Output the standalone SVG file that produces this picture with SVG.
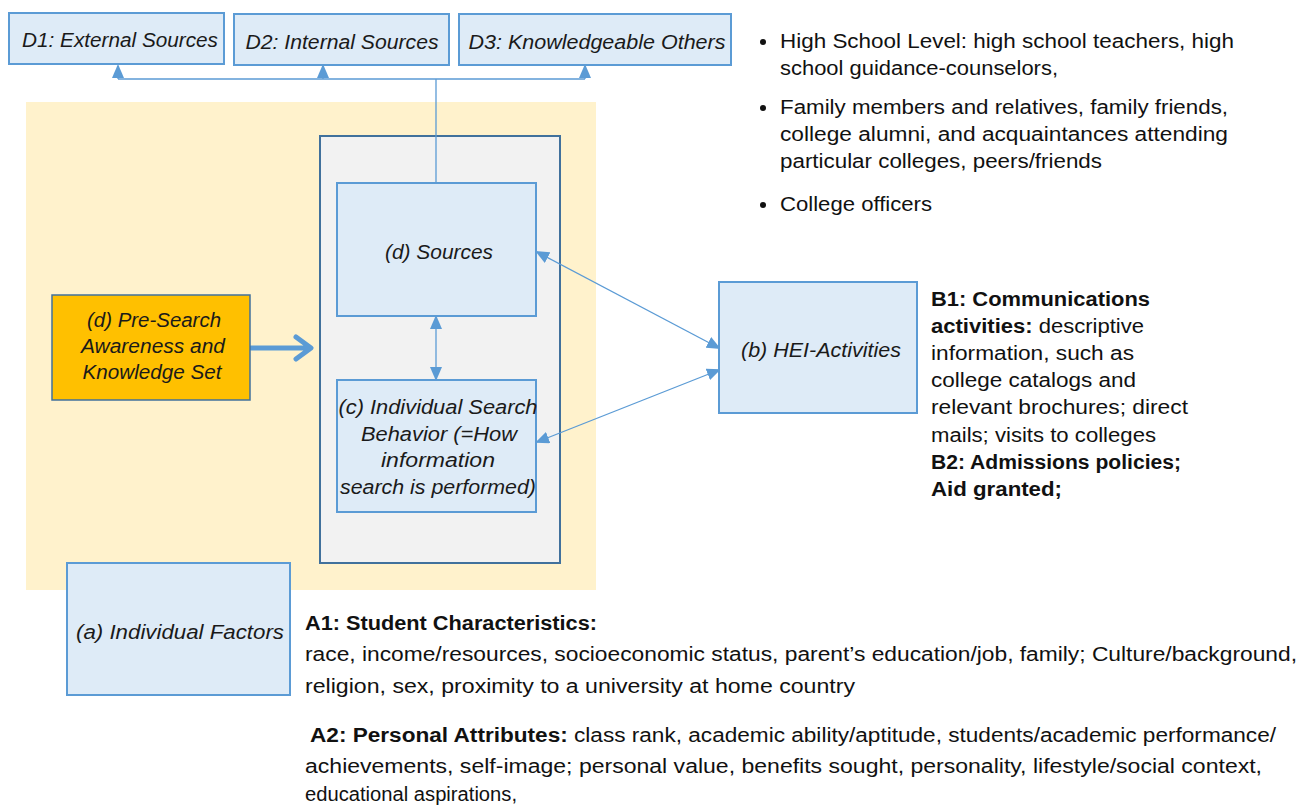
<svg xmlns="http://www.w3.org/2000/svg" width="1309" height="807" viewBox="0 0 1309 807">
<defs>
<style>
.box{fill:#DEEBF7;stroke:#5B9BD5;stroke-width:2}
.lbl{font-family:"Liberation Sans",Arial,sans-serif;font-style:italic;font-size:20px;fill:#1a1a1a;text-anchor:middle}
.txt{font-family:"Liberation Sans",Arial,sans-serif;font-size:20px;fill:#111}
.b{font-weight:bold}
.con{stroke:#5B9BD5;stroke-width:1.3;fill:none}
</style>
<marker id="ah2" viewBox="0 0 14 12" refX="12" refY="6" markerWidth="14" markerHeight="12" markerUnits="userSpaceOnUse" orient="auto-start-reverse">
<path d="M0,0 L14,6 L0,12 z" fill="#5B9BD5"/>
</marker>
</defs>
<rect width="1309" height="807" fill="#fff"/>

<rect id="bg-yellow" x="26" y="102" width="570" height="488" fill="#FFF2CC"/>

<g id="container">
<rect x="320" y="136" width="240" height="427" fill="#F2F2F2" stroke="#41719C" stroke-width="2"/>
</g>

<g id="connectors">
<path class="con" d="M436,183 V79 M118,79 H585" />
<path class="con" d="M118,79 V66" marker-end="url(#ah2)"/>
<path class="con" d="M323,79 V66" marker-end="url(#ah2)"/>
<path class="con" d="M585,79 V66" marker-end="url(#ah2)"/>
<path class="con" d="M436,317 V379" marker-start="url(#ah2)" marker-end="url(#ah2)"/>
<path class="con" d="M537,252 L719,348" marker-start="url(#ah2)" marker-end="url(#ah2)"/>
<path class="con" d="M537,442 L719,370" marker-start="url(#ah2)" marker-end="url(#ah2)"/>
<path d="M251,348 H310 M296,337 L311,348 L296,359" stroke="#5B9BD5" stroke-width="5" fill="none" stroke-linecap="round" stroke-linejoin="round"/>
</g>

<g id="d1"><rect class="box" x="9" y="13" width="215" height="51"/><text class="lbl" x="120" y="47" textLength="196" lengthAdjust="spacingAndGlyphs">D1: External Sources</text></g>
<g id="d2"><rect class="box" x="234" y="14" width="215" height="51"/><text class="lbl" x="342" y="49" textLength="193" lengthAdjust="spacingAndGlyphs">D2: Internal Sources</text></g>
<g id="d3"><rect class="box" x="459" y="14" width="272" height="51"/><text class="lbl" x="597" y="49" textLength="257" lengthAdjust="spacingAndGlyphs">D3: Knowledgeable Others</text></g>

<g id="sources"><rect class="box" x="337" y="183" width="199" height="133"/><text class="lbl" x="439" y="259" textLength="108" lengthAdjust="spacingAndGlyphs">(d) Sources</text></g>

<g id="search"><rect class="box" x="337" y="380" width="199" height="132"/>
<text class="lbl" x="438" y="414" textLength="199" lengthAdjust="spacingAndGlyphs">(c) Individual Search</text>
<text class="lbl" x="439" y="441" textLength="156" lengthAdjust="spacingAndGlyphs">Behavior (=How</text>
<text class="lbl" x="438" y="467" textLength="114" lengthAdjust="spacingAndGlyphs">information</text>
<text class="lbl" x="438" y="494" textLength="196" lengthAdjust="spacingAndGlyphs">search is performed)</text>
</g>

<g id="presearch"><rect x="52" y="295" width="198" height="105" fill="#FFC000" stroke="#41719C" stroke-width="1.5"/>
<text class="lbl" x="154" y="327" textLength="134" lengthAdjust="spacingAndGlyphs">(d) Pre-Search</text>
<text class="lbl" x="153" y="353" textLength="144" lengthAdjust="spacingAndGlyphs">Awareness and</text>
<text class="lbl" x="152" y="379" textLength="139" lengthAdjust="spacingAndGlyphs">Knowledge Set</text>
</g>

<g id="hei"><rect class="box" x="719" y="282" width="198" height="131"/><text class="lbl" x="821" y="357" textLength="160" lengthAdjust="spacingAndGlyphs">(b) HEI-Activities</text></g>

<g id="indiv"><rect class="box" x="67" y="563" width="223" height="132"/><text class="lbl" x="180" y="639" textLength="208" lengthAdjust="spacingAndGlyphs">(a) Individual Factors</text></g>

<g id="bullets" class="txt">
<circle cx="763" cy="42" r="3" fill="#111"/>
<circle cx="763" cy="108" r="3" fill="#111"/>
<circle cx="763" cy="205" r="3" fill="#111"/>
<text x="780" y="48" textLength="454" lengthAdjust="spacingAndGlyphs">High School Level: high school teachers, high</text>
<text x="780" y="75" textLength="278" lengthAdjust="spacingAndGlyphs">school guidance-counselors,</text>
<text x="780" y="114" textLength="448" lengthAdjust="spacingAndGlyphs">Family members and relatives, family friends,</text>
<text x="780" y="141" textLength="448" lengthAdjust="spacingAndGlyphs">college alumni, and acquaintances attending</text>
<text x="780" y="168" textLength="322" lengthAdjust="spacingAndGlyphs">particular colleges, peers/friends</text>
<text x="780" y="211" textLength="152" lengthAdjust="spacingAndGlyphs">College officers</text>
</g>

<g id="b-text" class="txt">
<text x="931" y="306" class="b" textLength="219" lengthAdjust="spacingAndGlyphs">B1: Communications</text>
<text x="931" y="333" textLength="213" lengthAdjust="spacingAndGlyphs"><tspan class="b">activities:</tspan> descriptive</text>
<text x="931" y="360" textLength="203" lengthAdjust="spacingAndGlyphs">information, such as</text>
<text x="931" y="387" textLength="205" lengthAdjust="spacingAndGlyphs">college catalogs and</text>
<text x="931" y="414" textLength="257" lengthAdjust="spacingAndGlyphs">relevant brochures; direct</text>
<text x="931" y="442" textLength="225" lengthAdjust="spacingAndGlyphs">mails; visits to colleges</text>
<text x="931" y="469" class="b" textLength="250" lengthAdjust="spacingAndGlyphs">B2: Admissions policies;</text>
<text x="931" y="496" class="b" textLength="131" lengthAdjust="spacingAndGlyphs">Aid granted;</text>
</g>

<g id="a-text" class="txt">
<text x="305" y="630" class="b" textLength="292" lengthAdjust="spacingAndGlyphs">A1: Student Characteristics:</text>
<text x="305" y="661" textLength="992" lengthAdjust="spacingAndGlyphs">race, income/resources, socioeconomic status, parent’s education/job, family; Culture/background,</text>
<text x="305" y="693" textLength="550" lengthAdjust="spacingAndGlyphs">religion, sex, proximity to a university at home country</text>
<text x="310" y="742" textLength="966" lengthAdjust="spacingAndGlyphs"><tspan class="b">A2: Personal Attributes:</tspan> class rank, academic ability/aptitude, students/academic performance/</text>
<text x="305" y="773" textLength="957" lengthAdjust="spacingAndGlyphs">achievements, self-image; personal value, benefits sought, personality, lifestyle/social context,</text>
<text x="305" y="801" textLength="212" lengthAdjust="spacingAndGlyphs">educational aspirations,</text>
</g>
</svg>
